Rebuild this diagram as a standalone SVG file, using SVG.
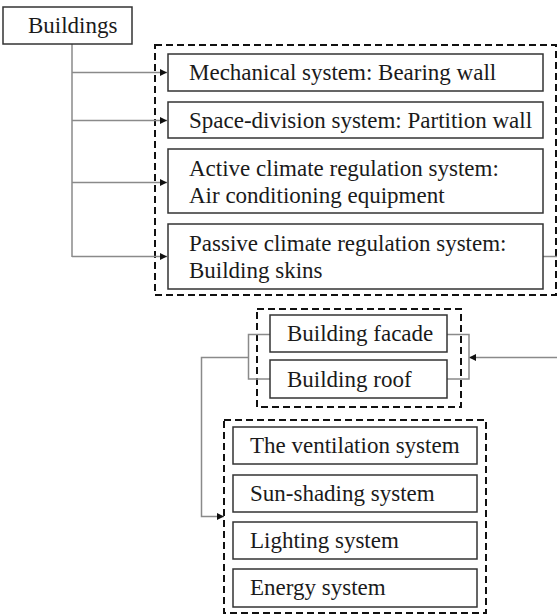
<svg xmlns="http://www.w3.org/2000/svg" width="557" height="615" viewBox="0 0 557 615">
  <style>
    .box { fill: #ffffff; stroke: #333333; stroke-width: 1.5; }
    .group { fill: none; stroke: #111111; stroke-width: 2; stroke-dasharray: 7 4; }
    .link { fill: none; stroke: #8a8a8a; stroke-width: 1.5; }
    text { font-family: "Liberation Serif", "Times New Roman", serif; font-size: 23px; fill: #1a1a1a; }
  </style>
  <defs>
    <marker id="arrow" markerWidth="7" markerHeight="7" refX="7" refY="3.5" orient="auto" markerUnits="userSpaceOnUse">
      <path d="M0,0 L7,3.5 L0,7 Z" fill="#111111"/>
    </marker>
  </defs>
  <rect width="557" height="615" fill="#ffffff"/>

  <!-- dashed groupings -->
  <g id="groups">
    <rect class="group" x="155" y="45" width="401" height="250"/>
    <rect class="group" x="257" y="309" width="204" height="98"/>
    <rect class="group" x="224" y="420" width="262" height="193"/>
  </g>

  <!-- connectors -->
  <g id="connectors">
    <path class="link" d="M72,44 V257"/>
    <path class="link" d="M72,72.5 H167" marker-end="url(#arrow)"/>
    <path class="link" d="M72,120.5 H167" marker-end="url(#arrow)"/>
    <path class="link" d="M72,182.5 H167" marker-end="url(#arrow)"/>
    <path class="link" d="M72,256.5 H167" marker-end="url(#arrow)"/>
    <path class="link" d="M543,256.5 H557"/>
    <path class="link" d="M557,357.5 H469" marker-end="url(#arrow)"/>
    <path class="link" d="M447,334.5 H469 V379 H447"/>
    <path class="link" d="M270,334.5 H248.5 V379 H270"/>
    <path class="link" d="M248.5,357.5 H201.5 V516.5 H224" marker-end="url(#arrow)"/>
  </g>

  <g id="buildings">
    <rect class="box" x="3" y="7" width="129" height="37"/>
    <text x="28" y="33">Buildings</text>
  </g>

  <g id="mechanical">
    <rect class="box" x="168" y="54" width="375" height="37"/>
    <text x="189" y="80">Mechanical system: Bearing wall</text>
  </g>
  <g id="space-division">
    <rect class="box" x="168" y="102" width="375" height="36"/>
    <text x="189" y="128">Space-division system: Partition wall</text>
  </g>
  <g id="active-climate">
    <rect class="box" x="168" y="149" width="375" height="64"/>
    <text x="189" y="176">Active climate regulation system:</text>
    <text x="189" y="203">Air conditioning equipment</text>
  </g>
  <g id="passive-climate">
    <rect class="box" x="168" y="224" width="375" height="65"/>
    <text x="189" y="251">Passive climate regulation system:</text>
    <text x="189" y="278">Building skins</text>
  </g>

  <g id="facade">
    <rect class="box" x="270" y="315" width="177" height="37"/>
    <text x="287" y="341">Building facade</text>
  </g>
  <g id="roof">
    <rect class="box" x="270" y="360" width="177" height="38"/>
    <text x="287" y="387">Building roof</text>
  </g>

  <g id="ventilation">
    <rect class="box" x="233" y="427" width="244" height="37"/>
    <text x="250" y="453">The ventilation system</text>
  </g>
  <g id="sun-shading">
    <rect class="box" x="233" y="475" width="244" height="37"/>
    <text x="250" y="501">Sun-shading system</text>
  </g>
  <g id="lighting">
    <rect class="box" x="233" y="522" width="244" height="37"/>
    <text x="250" y="548">Lighting system</text>
  </g>
  <g id="energy">
    <rect class="box" x="233" y="569" width="244" height="38"/>
    <text x="250" y="595">Energy system</text>
  </g>
</svg>
